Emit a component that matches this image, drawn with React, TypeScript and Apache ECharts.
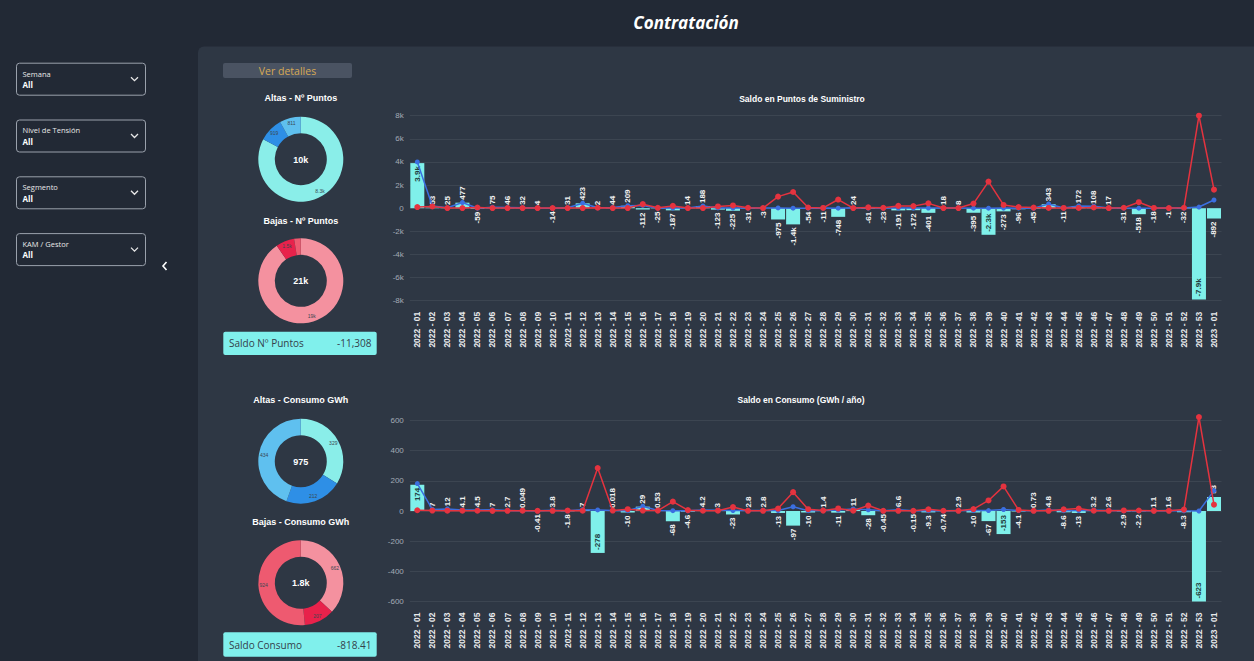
import React, { useEffect, useRef } from "react";
import * as echarts from "echarts";

const weeks = [
  "2022 - 01", "2022 - 02", "2022 - 03", "2022 - 04", "2022 - 05", "2022 - 06", "2022 - 07", "2022 - 08", "2022 - 09", "2022 - 10",
  "2022 - 11", "2022 - 12", "2022 - 13", "2022 - 14", "2022 - 15", "2022 - 16", "2022 - 17", "2022 - 18", "2022 - 19", "2022 - 20",
  "2022 - 21", "2022 - 22", "2022 - 23", "2022 - 24", "2022 - 25", "2022 - 26", "2022 - 27", "2022 - 28", "2022 - 29", "2022 - 30",
  "2022 - 31", "2022 - 32", "2022 - 33", "2022 - 34", "2022 - 35", "2022 - 36", "2022 - 37", "2022 - 38", "2022 - 39", "2022 - 40",
  "2022 - 41", "2022 - 42", "2022 - 43", "2022 - 44", "2022 - 45", "2022 - 46", "2022 - 47", "2022 - 48", "2022 - 49", "2022 - 50",
  "2022 - 51", "2022 - 52", "2022 - 53", "2023 - 01",
];

// Saldo en Puntos de Suministro (bars) and altas / bajas (lines)
const saldoPuntos = [
  3900, 53, 25, 477, -59, 75, 46, 32, 4, -14,
  31, 423, 2, 44, 209, -112, -25, -187, 14, 188,
  -123, -225, -31, -3, -975, -1400, -54, -11, -748, 24,
  -61, -23, -191, -172, -401, 18, 8, -395, -2300, -273,
  -96, -45, 343, -11, 172, 108, 17, -31, -518, -18,
  -1, -32, -7900, -892,
];
const altasPuntos = [
  4000, 200, 35, 490, 0, 85, 56, 42, 14, 0,
  41, 433, 42, 54, 219, 238, 5, 13, 24, 198,
  27, 15, 9, 7, 25, 0, 6, 9, 2, 34,
  9, 7, 9, 8, 19, 28, 18, 5, 0, 7,
  4, 5, 363, 9, 192, 168, 27, 9, 2, 2,
  9, 8, 100, 710,
];
const bajasPuntos = [
  100, 150, 10, 13, 59, 10, 10, 10, 10, 14,
  10, 10, 40, 10, 10, 350, 30, 200, 10, 10,
  150, 240, 40, 10, 1000, 1400, 60, 20, 750, 10,
  70, 30, 200, 180, 420, 10, 10, 400, 2300, 280,
  100, 50, 20, 20, 20, 60, 10, 40, 520, 20,
  10, 40, 8000, 1600,
];

// Saldo en Consumo (GWh / año)
const saldoConsumo = [
  174, 7, 12, 4.1, 4.5, 7, 2.7, 0.049, -0.41, 3.8,
  -1.8, 7, -278, 0.018, -10, 29, 0.53, -68, -4.6, 4.2,
  3, -23, 2.8, 2.8, -13, -97, -10, 1.4, -11, 11,
  -28, -0.45, 6.6, -0.15, -9.3, -0.74, 2.9, -10, -67, -153,
  -4.1, 0.73, 4.8, -8.6, -13, 3.2, 2.6, -2.9, -2.2, 1.1,
  1.6, -8.3, -623, 93,
];
const altasConsumo = [
  182, 10, 14, 6, 6, 8, 4, 2, 1, 5,
  1, 9, 7, 3, 2, 32, 3, 2, 1, 6,
  5, 3, 4, 4, 3, 28, 2, 4, 6, 13,
  8, 1, 8, 1, 2, 1, 4, 3, 3, 10,
  3, 2, 6, 2, 3, 5, 4, 1, 1, 2,
  3, 1, 0, 135,
];
const bajasConsumo = [
  5, 3, 2, 2, 1.5, 1, 1.3, 2, 1.4, 1.2,
  2.8, 2, 285, 3, 12, 3, 2.5, 62, 5.6, 1.8,
  2, 26, 1.2, 1.2, 16, 125, 12, 2.6, 17, 2,
  36, 1.45, 1.4, 1.15, 11.3, 1.74, 1.1, 13, 70, 163,
  7.1, 1.27, 1.2, 10.6, 16, 1.8, 1.4, 3.9, 3.2, 0.9,
  1.4, 9.3, 623, 42,
];

// Donuts
const donutGroups = ["Grupo 1", "Grupo 2", "Grupo 3"];
const altasPuntosDonut = [8300, 919, 811];
const bajasPuntosDonut = [19300, 1500, 540];
const altasConsumoDonut = [329, 212, 434];
const bajasConsumoDonut = [662, 207, 924];

const saldoPuntosKpi = "-11,308";
const saldoConsumoKpi = "-818.41";

const filters = ["Semana", "Nivel de Tensión", "Segmento", "KAM / Gestor"];
const filterValue = "All";

const W = 1254;
const H = 661;
const uiFont = "'Open Sans', 'Noto Sans', sans-serif";
const chartFont = "'Liberation Sans', Arial, sans-serif";

const CYAN = "#7ff0ea";
const BLUE = "#3b6fe0";
const RED = "#e5333f";
const altasColors = ["#8aeee9", "#2e8fe6", "#5fc0ef"];
const bajasColors = ["#f4919f", "#e8224b", "#ee5a70"];

function fmtBar(v: number) {
  if (Math.abs(v) >= 1000) return (v / 1000).toFixed(1) + "k";
  return String(v);
}
function fmtPie(v: number) {
  if (v >= 10000) return Math.round(v / 1000) + "k";
  if (v >= 1000) return (v / 1000).toFixed(1) + "k";
  return String(Math.round(v));
}

function barItems(vals: number[], insideMin: number) {
  return vals.map((v) => {
    const inside = Math.abs(v) >= insideMin;
    const pos = v >= 0 ? (inside ? "insideTop" : "top") : inside ? "insideBottom" : "bottom";
    const align = (v >= 0) === inside ? "right" : "left";
    return {
      value: v,
      label: {
        position: pos,
        align,
        verticalAlign: "middle",
        rotate: 90,
        color: inside ? "#24403f" : "#f2f2f2",
      },
    };
  });
}

function sum(a: number[]) {
  return a.reduce((s, x) => s + x, 0);
}

function donut(center: [number, number], vals: number[], colors: string[]) {
  const total = sum(vals);
  return {
    type: "pie",
    center,
    radius: [26, 42.5],
    startAngle: 90,
    clockwise: true,
    avoidLabelOverlap: false,
    emphasis: { disabled: true },
    label: {
      show: true,
      position: "inside",
      fontSize: 5,
      color: "#3a4752",
      fontFamily: chartFont,
      formatter: (p: any) => (p.value / total < 0.04 ? "" : fmtPie(p.value)),
    },
    labelLine: { show: false },
    data: vals.map((v, i) => ({ name: donutGroups[i], value: v, itemStyle: { color: colors[i] } })),
  };
}

function txt(x: number, y: number, text: string, extra: any = {}) {
  return {
    type: "text",
    x,
    y,
    silent: true,
    style: {
      text,
      fill: "#ffffff",
      fontSize: 9,
      fontFamily: chartFont,
      align: "center",
      verticalAlign: "middle",
      ...extra,
    },
  };
}

function buildGraphic() {
  const g: any[] = [];
  g.push({
    type: "rect",
    shape: { x: 198, y: 46.5, width: 1070, height: 630, r: 6 },
    style: { fill: "#2e3744" },
    silent: true,
  });
  g.push(txt(686, 22, "Contratación", { fontSize: 17, fontWeight: "bold", fontStyle: "italic", fontFamily: uiFont }));

  filters.forEach((f, i) => {
    const top = 62.7 + i * 56.8;
    g.push({
      type: "rect",
      shape: { x: 16.5, y: top + 0.5, width: 129, height: 32, r: 3 },
      style: { fill: "rgba(0,0,0,0)", stroke: "#9aa1ac", lineWidth: 1 },
      silent: true,
    });
    g.push(txt(22.5, top + 10.8, f, { align: "left", fontSize: 7.5, fill: "#e8e8e8", fontFamily: uiFont }));
    g.push(txt(22.5, top + 21.8, filterValue, { align: "left", fontSize: 8, fontWeight: "bold", fill: "#ffffff", fontFamily: uiFont }));
    g.push({
      type: "polyline",
      shape: { points: [[131, top + 14.5], [134.5, top + 18], [138, top + 14.5]] },
      style: { stroke: "#e8e8e8", lineWidth: 1.3, fill: "none" },
      silent: true,
    });
  });
  g.push({
    type: "polyline",
    shape: { points: [[166.5, 262], [163, 266], [166.5, 270]] },
    style: { stroke: "#ffffff", lineWidth: 1.6, fill: "none" },
    silent: true,
  });

  g.push({
    type: "rect",
    shape: { x: 223, y: 63, width: 129, height: 15, r: 2 },
    style: { fill: "#4a5362" },
    silent: true,
  });
  g.push(txt(287.5, 70.8, "Ver detalles", { fontSize: 10.5, fill: "#d7a955", fontFamily: uiFont }));

  g.push(txt(300.8, 98.3, "Altas - Nº Puntos", { fontWeight: "bold" }));
  g.push(txt(300.8, 220.7, "Bajas - Nº Puntos", { fontWeight: "bold" }));
  g.push(txt(300.8, 400, "Altas - Consumo GWh", { fontWeight: "bold" }));
  g.push(txt(300.8, 521.7, "Bajas - Consumo GWh", { fontWeight: "bold" }));

  g.push(txt(300.8, 159.6, fmtPie(sum(altasPuntosDonut)), { fontWeight: "bold", fontSize: 9 }));
  g.push(txt(300.8, 281.2, fmtPie(sum(bajasPuntosDonut)), { fontWeight: "bold", fontSize: 9 }));
  g.push(txt(300.8, 461.6, fmtPie(sum(altasConsumoDonut)), { fontWeight: "bold", fontSize: 9 }));
  g.push(txt(300.8, 583.2, fmtPie(sum(bajasConsumoDonut)), { fontWeight: "bold", fontSize: 9 }));

  const kpis: [number, number, string, string][] = [
    [331.7, 23.3, "Saldo Nº Puntos", saldoPuntosKpi],
    [632.3, 24.4, "Saldo Consumo", saldoConsumoKpi],
  ];
  kpis.forEach(([y, h, label, val]) => {
    g.push({
      type: "rect",
      shape: { x: 223.3, y, width: 153.4, height: h, r: 2 },
      style: { fill: "#80f0ec" },
      silent: true,
    });
    g.push(txt(229, y + h / 2, label, { align: "left", fontSize: 10, fill: "#34414b", fontFamily: uiFont }));
    g.push(txt(371.5, y + h / 2, val, { align: "right", fontSize: 10, fill: "#34414b", fontFamily: uiFont }));
  });

  g.push(txt(802, 98.5, "Saldo en Puntos de Suministro", { fontWeight: "bold", fontSize: 8.5 }));
  g.push(txt(801, 399.5, "Saldo en Consumo (GWh / año)", { fontWeight: "bold", fontSize: 8.5 }));
  return g;
}

function xAxis(gridIndex: number) {
  return {
    type: "category",
    gridIndex,
    data: weeks,
    axisLine: { show: false, onZero: false },
    axisTick: { show: false },
    splitLine: { show: false },
    axisLabel: {
      rotate: 90,
      interval: 0,
      fontSize: 8.5,
      fontWeight: "bold",
      color: "#e8eaec",
      margin: 11,
      fontFamily: chartFont,
    },
  };
}

function yAxis(gridIndex: number, min: number, max: number, interval: number, k: boolean) {
  return {
    type: "value",
    gridIndex,
    min,
    max,
    interval,
    axisLine: { show: false },
    axisTick: { show: false },
    splitLine: { show: true, lineStyle: { color: "rgba(255,255,255,0.07)", width: 1 } },
    axisLabel: {
      fontSize: 8,
      color: "#a3abb5",
      margin: 6,
      fontFamily: chartFont,
      formatter: (v: number) => (k ? (v === 0 ? "0" : v / 1000 + "k") : String(v)),
    },
  };
}

function barSeries(idx: number, vals: number[], insideMin: number) {
  return {
    type: "bar",
    xAxisIndex: idx,
    yAxisIndex: idx,
    barWidth: 14,
    itemStyle: { color: CYAN },
    z: 2,
    label: {
      show: true,
      fontSize: 8,
      fontWeight: "bold",
      distance: 3,
      fontFamily: chartFont,
      formatter: (p: any) => fmtBar(p.value),
    },
    data: barItems(vals, insideMin),
  };
}

function lineSeries(idx: number, vals: number[], color: string, size: number, z: number) {
  return {
    type: "line",
    xAxisIndex: idx,
    yAxisIndex: idx,
    data: vals,
    symbol: "circle",
    symbolSize: size,
    showAllSymbol: true,
    clip: false,
    z,
    itemStyle: { color },
    lineStyle: { color, width: 1.5 },
    emphasis: { disabled: true },
  };
}

export default function App() {
  const ref = useRef<HTMLDivElement>(null);
  useEffect(() => {
    const chart = echarts.init(ref.current as HTMLDivElement, undefined, { renderer: "svg", width: W, height: H });
    chart.setOption({
      animation: false,
      backgroundColor: "#222935",
      textStyle: { fontFamily: chartFont },
      graphic: buildGraphic(),
      grid: [
        { left: 409.8, top: 115.7, width: 811.7, height: 185, containLabel: false },
        { left: 409.8, top: 420.5, width: 811.7, height: 181, containLabel: false },
      ],
      xAxis: [xAxis(0), xAxis(1)],
      yAxis: [yAxis(0, -8000, 8000, 2000, true), yAxis(1, -600, 600, 200, false)],
      series: [
        barSeries(0, saldoPuntos, 2000),
        lineSeries(0, altasPuntos, BLUE, 5, 3),
        lineSeries(0, bajasPuntos, RED, 6, 4),
        barSeries(1, saldoConsumo, 150),
        lineSeries(1, altasConsumo, BLUE, 5, 3),
        lineSeries(1, bajasConsumo, RED, 6, 4),
        donut([300.8, 159.2], altasPuntosDonut, altasColors),
        donut([300.8, 280.8], bajasPuntosDonut, bajasColors),
        donut([300.8, 461.2], altasConsumoDonut, altasColors),
        donut([300.8, 582.8], bajasConsumoDonut, bajasColors),
      ],
    });
    return () => chart.dispose();
  }, []);
  return <div ref={ref} style={{ position: "fixed", left: 0, top: 0, width: W, height: H }} />;
}
